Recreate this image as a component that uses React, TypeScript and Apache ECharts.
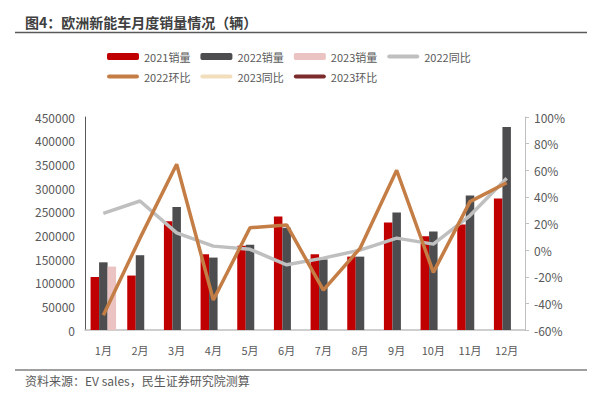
import React, { useEffect, useRef } from "react";
import * as echarts from "echarts";

const months = ["1月", "2月", "3月", "4月", "5月", "6月", "7月", "8月", "9月", "10月", "11月", "12月"];
const sales2021 = [112000, 115000, 230000, 160000, 178000, 240000, 160000, 155000, 227000, 198000, 223000, 278000];
const sales2022 = [143000, 158000, 260000, 153000, 180000, 216000, 149000, 155000, 248000, 208000, 284000, 429000];
const sales2023 = [134000, null, null, null, null, null, null, null, null, null, null, null];
const yoy2022 = [27.6, 36.9, 13, 3, 0.6, -11, -6, 0, 9, 4.5, 26, 54];
const mom2022 = [-49, 9, 64.5, -37.5, 16.8, 18.9, -30, 1.3, 60, -16.7, 36.4, 50.6];
const yoy2023: (number | null)[] = [];
const mom2023: (number | null)[] = [];

const FONT = "'Noto Sans CJK SC', 'Noto Sans', sans-serif";
const TXT = "#595959";
const LINE_ICON = "path://M2,0 L30,0 A2,2 0 0 1 30,4 L2,4 A2,2 0 0 1 2,0 Z";

export default function App() {
  const ref = useRef<HTMLDivElement>(null);
  useEffect(() => {
    if (!ref.current) return;
    const chart = echarts.init(ref.current, undefined, { renderer: "svg" });
    chart.setOption({
      animation: false,
      textStyle: { fontFamily: FONT },
      graphic: [
        {
          type: "text",
          left: 25,
          top: 15,
          style: { text: "图4：欧洲新能车月度销量情况（辆）", font: `bold 14px ${FONT}`, fill: "#404040" },
        },
        { type: "line", shape: { x1: 15, y1: 32.5, x2: 587, y2: 32.5 }, style: { stroke: "#595959", lineWidth: 1.5 } },
        { type: "line", shape: { x1: 15, y1: 370, x2: 587, y2: 370 }, style: { stroke: "#7f7f7f", lineWidth: 1.5 } },
        {
          type: "text",
          left: 25,
          top: 374,
          style: { text: "资料来源：EV sales，民生证券研究院测算", font: `12px ${FONT}`, fill: TXT },
        },
      ],
      legend: [
        {
          data: [
            { name: "2021销量" },
            { name: "2022销量" },
            { name: "2023销量" },
            { name: "2022同比", icon: LINE_ICON },
          ],
          left: 102,
          top: 46,
          itemWidth: 32,
          itemHeight: 7,
          itemGap: 10,
          textStyle: { fontSize: 11, color: TXT, fontFamily: FONT },
        },
        {
          data: [
            { name: "2022环比", icon: LINE_ICON },
            { name: "2023同比", icon: LINE_ICON },
            { name: "2023环比", icon: LINE_ICON },
          ],
          left: 102,
          top: 66,
          itemWidth: 32,
          itemHeight: 7,
          itemGap: 10,
          textStyle: { fontSize: 11, color: TXT, fontFamily: FONT },
        },
      ],
      grid: { left: 85, right: 70, top: 117, bottom: 67, containLabel: false },
      xAxis: {
        type: "category",
        data: months,
        axisLine: { lineStyle: { color: "#bfbfbf", width: 1.5 } },
        axisTick: { show: false },
        axisLabel: { color: TXT, fontSize: 11, margin: 14 },
      },
      yAxis: [
        {
          type: "value",
          min: 0,
          max: 450000,
          interval: 50000,
          axisLine: { show: true, lineStyle: { color: "#595959" } },
          axisTick: { show: false },
          splitLine: { show: false },
          axisLabel: { color: TXT, fontSize: 12, margin: 10, formatter: (v: number) => String(v) },
        },
        {
          type: "value",
          min: -60,
          max: 100,
          interval: 20,
          position: "right",
          axisLine: { show: true, lineStyle: { color: "#bfbfbf" } },
          axisTick: { show: true, length: 4, lineStyle: { color: "#bfbfbf" } },
          splitLine: { show: false },
          axisLabel: { color: TXT, fontSize: 12, margin: 9, formatter: "{value}%" },
        },
      ],
      series: [
        { name: "2021销量", type: "bar", data: sales2021, barWidth: 8.5, barGap: "0%", itemStyle: { color: "#C00000" } },
        { name: "2022销量", type: "bar", data: sales2022, barWidth: 8.5, barGap: "0%", itemStyle: { color: "#4D4D4F" } },
        { name: "2023销量", type: "bar", data: sales2023, barWidth: 8.5, barGap: "0%", itemStyle: { color: "#EBC3C3" } },
        {
          name: "2022同比",
          type: "line",
          yAxisIndex: 1,
          data: yoy2022,
          symbol: "none",
          lineStyle: { color: "#BFBFBF", width: 3.5 },
          itemStyle: { color: "#BFBFBF" },
        },
        {
          name: "2022环比",
          type: "line",
          yAxisIndex: 1,
          data: mom2022,
          symbol: "none",
          lineStyle: { color: "#C47D45", width: 3.5 },
          itemStyle: { color: "#C47D45" },
        },
        {
          name: "2023同比",
          type: "line",
          yAxisIndex: 1,
          data: yoy2023,
          symbol: "none",
          lineStyle: { color: "#F2DDBD", width: 3.5 },
          itemStyle: { color: "#F2DDBD" },
        },
        {
          name: "2023环比",
          type: "line",
          yAxisIndex: 1,
          data: mom2023,
          symbol: "none",
          lineStyle: { color: "#7B2B2B", width: 3.5 },
          itemStyle: { color: "#7B2B2B" },
        },
      ],
    });
    return () => chart.dispose();
  }, []);
  return (
    <div
      ref={ref}
      style={{ position: "absolute", left: 0, top: 0, width: 595, height: 397, background: "#fff" }}
    />
  );
}
